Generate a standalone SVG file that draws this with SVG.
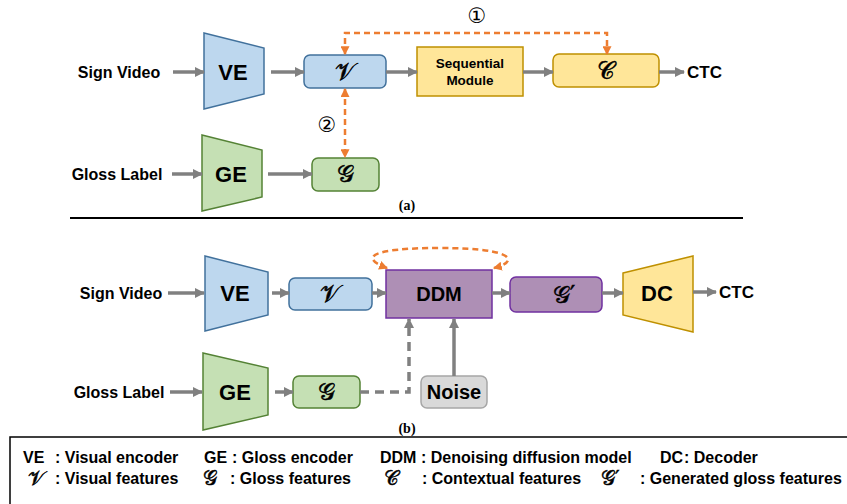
<svg xmlns="http://www.w3.org/2000/svg" width="847" height="504" viewBox="0 0 847 504">
  <defs>
    <style>
      .lbl { font-family: "Liberation Sans", Arial, sans-serif; font-weight: bold; fill: #000; }
      .math { font-family: "DejaVu Serif", "DejaVu Sans", serif; font-style: normal; fill: #000; stroke: #000; stroke-width: 0.5; }
      .num { font-family: "DejaVu Sans", sans-serif; fill: #000; }
      .cap { font-family: "Liberation Serif", "Times New Roman", serif; font-weight: bold; font-size: 14px; fill: #000; }
      .blue { fill: #BDD7EE; stroke: #41719C; stroke-width: 1.5; }
      .green { fill: #C5E0B4; stroke: #548235; stroke-width: 1.5; }
      .yellow { fill: #FFE699; stroke: #BF9000; stroke-width: 1.5; }
      .purple { fill: #AE8FB5; stroke: #7030A0; stroke-width: 1.5; }
      .grey { fill: #D9D9D9; stroke: #A6A6A6; stroke-width: 1.5; }
      .flow { fill: none; stroke: #808080; stroke-width: 3.5; marker-end: url(#ahGrey); }
      .flowDash { fill: none; stroke: #808080; stroke-width: 3.5; stroke-dasharray: 9 6; marker-end: url(#ahGrey); }
      .ctx { fill: none; stroke: #ED7D31; stroke-width: 2.5; stroke-dasharray: 6 4; marker-start: url(#ahOrange); marker-end: url(#ahOrange); }
    </style>
    <marker id="ahGrey" viewBox="0 0 10 10" refX="9" refY="5" markerWidth="10" markerHeight="10" markerUnits="userSpaceOnUse" orient="auto">
      <path d="M0,0 L10,5 L0,10 z" fill="#808080"/>
    </marker>
    <marker id="ahOrange" viewBox="0 0 8 8" refX="7" refY="4" markerWidth="9" markerHeight="9" markerUnits="userSpaceOnUse" orient="auto-start-reverse">
      <path d="M0,0 L8,4 L0,8 z" fill="#ED7D31"/>
    </marker>
  </defs>

  <!-- ===== (a) ===== -->
  <g id="a-sign-video"><text class="lbl" x="119" y="78" font-size="16" text-anchor="middle">Sign Video</text></g>
  <g id="a-ve">
    <polygon class="blue" points="204,33 264,48 264,94 204,109"/>
    <text class="lbl" x="233" y="80" font-size="22" text-anchor="middle">VE</text>
  </g>
  <g id="a-v">
    <rect class="blue" x="304" y="55" width="82" height="33" rx="6"/>
    <text class="math" x="345" y="80" font-size="24" text-anchor="middle">𝒱</text>
  </g>
  <g id="a-seq">
    <rect class="yellow" x="417" y="47" width="106" height="49"/>
    <text class="lbl" x="470" y="68" font-size="13.5" text-anchor="middle">Sequential</text>
    <text class="lbl" x="470" y="85" font-size="13.5" text-anchor="middle">Module</text>
  </g>
  <g id="a-c">
    <rect class="yellow" x="553" y="54" width="106" height="33" rx="6"/>
    <text class="math" x="606" y="79" font-size="24" text-anchor="middle">𝒞</text>
  </g>
  <g id="a-ctc"><text class="lbl" x="687" y="78" font-size="17">CTC</text></g>
  <g id="a-gloss-label"><text class="lbl" x="117" y="180" font-size="16" text-anchor="middle">Gloss Label</text></g>
  <g id="a-ge">
    <polygon class="green" points="202,135 262,150 262,197 202,211"/>
    <text class="lbl" x="231" y="182" font-size="22" text-anchor="middle">GE</text>
  </g>
  <g id="a-g">
    <rect class="green" x="312" y="158" width="67" height="33" rx="6"/>
    <text class="math" x="345" y="182" font-size="24" text-anchor="middle">𝒢</text>
  </g>
  <g id="a-marks">
    <text class="num" x="477" y="23" font-size="21" text-anchor="middle">①</text>
    <text class="num" x="327" y="132" font-size="21" text-anchor="middle">②</text>
  </g>
  <g id="a-caption"><text class="cap" x="407" y="210" text-anchor="middle">(a)</text></g>

  <g id="a-connectors">
    <line class="flow" x1="173" y1="72" x2="204" y2="72"/>
    <line class="flow" x1="271" y1="72" x2="304" y2="72"/>
    <line class="flow" x1="386" y1="72" x2="417" y2="72"/>
    <line class="flow" x1="523" y1="72" x2="553" y2="72"/>
    <line class="flow" x1="659" y1="72" x2="684" y2="72"/>
    <line class="flow" x1="172" y1="174" x2="202" y2="174"/>
    <line class="flow" x1="268" y1="174" x2="312" y2="174"/>
    <path class="ctx" d="M345,54 V33 H607 V54"/>
    <path class="ctx" d="M345,89 V157"/>
  </g>

  <line x1="70" y1="218" x2="743" y2="218" stroke="#000" stroke-width="1.8"/>

  <!-- ===== (b) ===== -->
  <g id="b-sign-video"><text class="lbl" x="121" y="299" font-size="16" text-anchor="middle">Sign Video</text></g>
  <g id="b-ve">
    <polygon class="blue" points="205,256 268,272 268,315 205,331"/>
    <text class="lbl" x="235" y="301" font-size="22" text-anchor="middle">VE</text>
  </g>
  <g id="b-v">
    <rect class="blue" x="289" y="278" width="83" height="32" rx="6"/>
    <text class="math" x="330" y="302" font-size="24" text-anchor="middle">𝒱</text>
  </g>
  <g id="b-ddm">
    <rect class="purple" x="386" y="270" width="106" height="48"/>
    <text class="lbl" x="439" y="301" font-size="20" text-anchor="middle">DDM</text>
  </g>
  <g id="b-gprime">
    <rect class="purple" x="510" y="277" width="92" height="35" rx="6"/>
    <text class="math" x="564" y="303" font-size="24" text-anchor="middle">𝒢′</text>
  </g>
  <g id="b-dc">
    <polygon class="yellow" points="623,273 693,256 693,332 623,315"/>
    <text class="lbl" x="657" y="301" font-size="22" text-anchor="middle">DC</text>
  </g>
  <g id="b-ctc"><text class="lbl" x="719" y="298" font-size="17">CTC</text></g>
  <g id="b-gloss-label"><text class="lbl" x="119" y="398" font-size="16" text-anchor="middle">Gloss Label</text></g>
  <g id="b-ge">
    <polygon class="green" points="203,353 268,368 268,415 203,430"/>
    <text class="lbl" x="235" y="400" font-size="22" text-anchor="middle">GE</text>
  </g>
  <g id="b-g">
    <rect class="green" x="293" y="376" width="67" height="32" rx="6"/>
    <text class="math" x="326" y="400" font-size="24" text-anchor="middle">𝒢</text>
  </g>
  <g id="b-noise">
    <rect class="grey" x="421" y="376" width="66" height="32" rx="6"/>
    <text class="lbl" x="454" y="399" font-size="20" text-anchor="middle">Noise</text>
  </g>
  <g id="b-caption"><text class="cap" x="407" y="433" text-anchor="middle">(b)</text></g>

  <g id="b-connectors">
    <line class="flow" x1="168" y1="293" x2="204" y2="293"/>
    <line class="flow" x1="272" y1="293" x2="289" y2="293"/>
    <line class="flow" x1="372" y1="293" x2="386" y2="293"/>
    <line class="flow" x1="492" y1="293" x2="510" y2="293"/>
    <line class="flow" x1="602" y1="293" x2="623" y2="293"/>
    <line class="flow" x1="693" y1="292" x2="716" y2="292"/>
    <line class="flow" x1="170" y1="392" x2="202" y2="392"/>
    <line class="flow" x1="275" y1="392" x2="293" y2="392"/>
    <path class="flowDash" d="M360,392 H409 V319"/>
    <line class="flow" x1="454" y1="376" x2="454" y2="319"/>
    <path class="ctx" d="M387,268 C360,258 368,248 440,248 C518,248 518,262 494,268"/>
  </g>

  <!-- ===== legend ===== -->
  <g id="legend">
    <path d="M10,504 V437 H847" fill="none" stroke="#000" stroke-width="1.5"/>
    <g class="lbl" font-size="16">
      <text x="23" y="463">VE</text><text x="55" y="463">: Visual encoder</text>
      <text x="204" y="463">GE</text><text x="232" y="463">: Gloss encoder</text>
      <text x="380" y="463">DDM</text><text x="421" y="463">: Denoising diffusion model</text>
      <text x="660" y="463">DC</text><text x="684" y="463">: Decoder</text>
      <text x="55" y="484">: Visual features</text>
      <text x="230" y="484">: Gloss features</text>
      <text x="422" y="484">: Contextual features</text>
      <text x="640" y="484">: Generated gloss features</text>
    </g>
    <g class="math" font-size="20">
      <text x="28" y="485">𝒱</text>
      <text x="203" y="485">𝒢</text>
      <text x="384" y="485">𝒞</text>
      <text x="601" y="485">𝒢′</text>
    </g>
  </g>
</svg>
